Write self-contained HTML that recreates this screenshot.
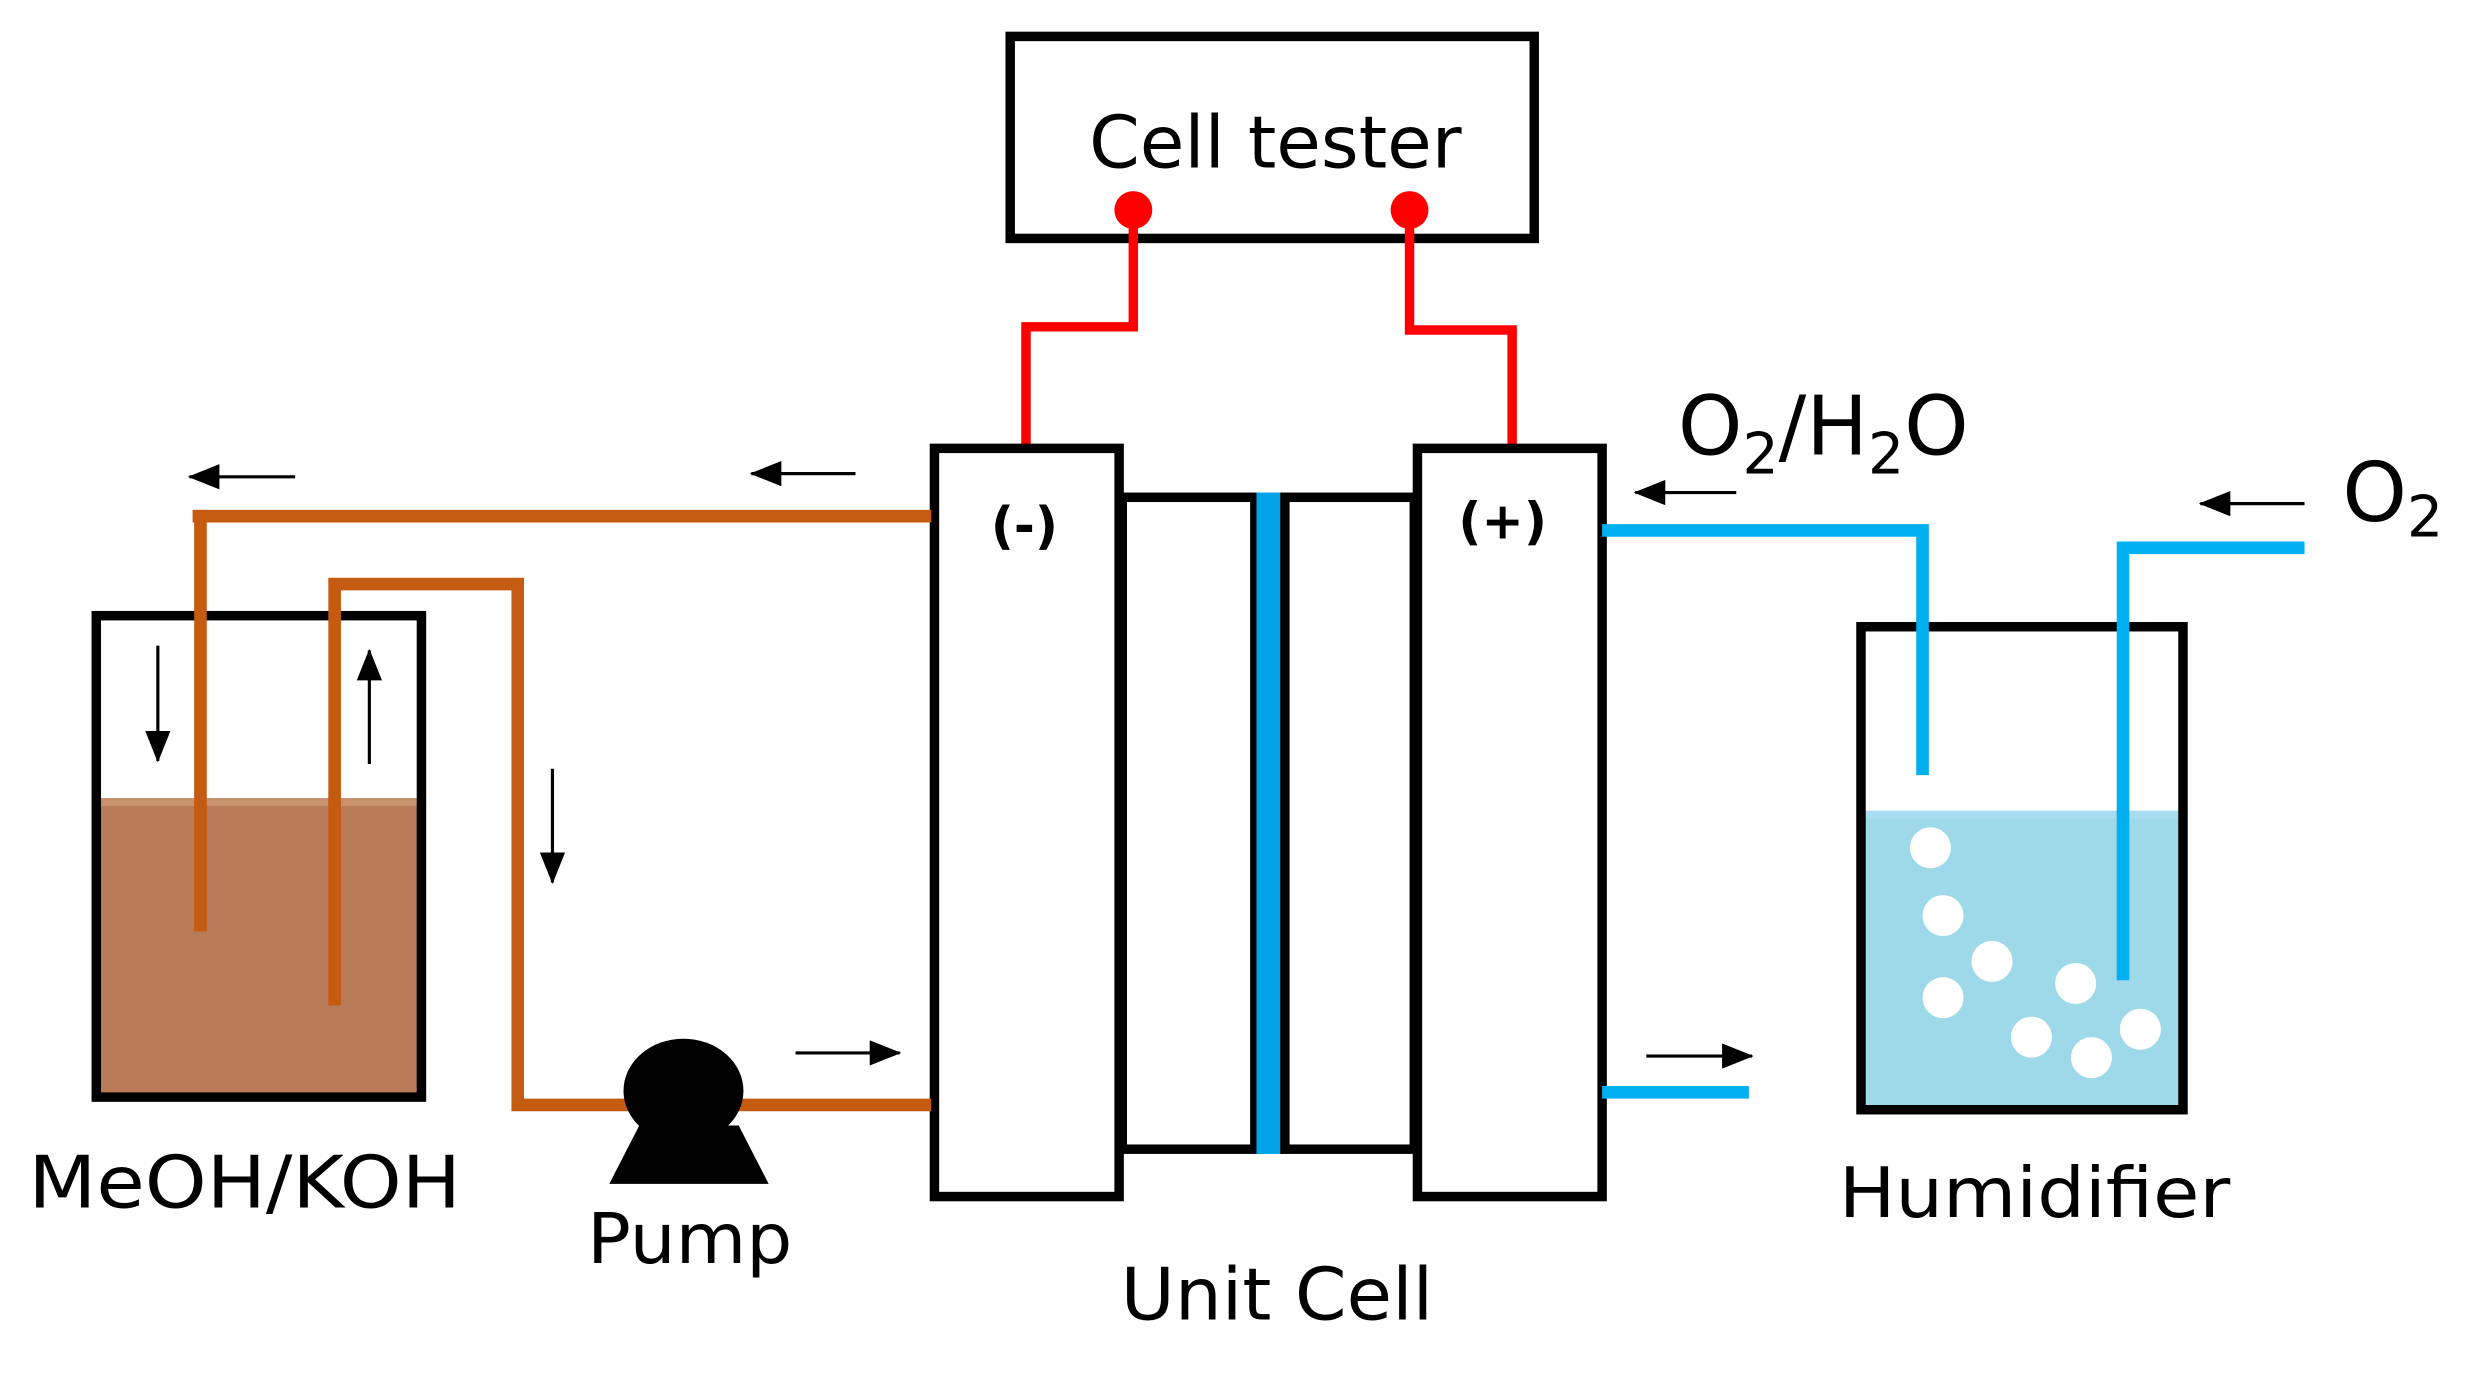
<!DOCTYPE html>
<html><head><meta charset="utf-8"><style>
html,body{margin:0;padding:0;background:#fff;}
svg{display:block;}
text{font-family:"DejaVu Sans","Liberation Sans",sans-serif;fill:#000;}
</style></head><body>
<svg width="2475" height="1375" viewBox="0 0 1568 871" xmlns="http://www.w3.org/2000/svg">
<defs>
<marker id="ah" markerWidth="20" markerHeight="16" refX="19" refY="8" orient="auto" markerUnits="userSpaceOnUse" viewBox="0 0 20 16">
<path d="M0,0 L20,8 L0,16 z" fill="#000"/>
</marker>
</defs>
<!-- Cell tester -->
<rect x="640" y="23" width="332" height="128" fill="none" stroke="#000" stroke-width="6"/>
<text x="690" y="106" font-size="46" textLength="236" lengthAdjust="spacingAndGlyphs">Cell tester</text>
<!-- red wires -->
<polyline points="718,133 718,207 650,207 650,284" fill="none" stroke="#f00" stroke-width="6"/>
<polyline points="893,133 893,209 958,209 958,284" fill="none" stroke="#f00" stroke-width="6"/>
<circle cx="718" cy="133" r="12" fill="#f00"/>
<circle cx="893" cy="133" r="12" fill="#f00"/>
<!-- unit cell -->
<rect x="711" y="315" width="84" height="413" fill="#fff" stroke="#000" stroke-width="6"/>
<rect x="814" y="315" width="82" height="413" fill="#fff" stroke="#000" stroke-width="6"/>
<rect x="796" y="312" width="15" height="419" fill="#00a2e8"/>
<rect x="592" y="284" width="117" height="474" fill="#fff" stroke="#000" stroke-width="6"/>
<rect x="898" y="284" width="117" height="474" fill="#fff" stroke="#000" stroke-width="6"/>
<text x="649" y="344" font-size="32" font-weight="bold" text-anchor="middle">(-)</text>
<text x="952" y="341" font-size="32" font-weight="bold" text-anchor="middle">(+)</text>
<text x="710" y="836" font-size="46" textLength="198" lengthAdjust="spacingAndGlyphs">Unit Cell</text>
<!-- tank -->
<rect x="63" y="508" width="203" height="185" fill="#b97a57"/>
<line x1="63" y1="508" x2="270" y2="508" stroke="#c9916d" stroke-width="5"/>
<rect x="61" y="390" width="206" height="305" fill="none" stroke="#000" stroke-width="6"/>
<!-- orange pipes -->
<polyline points="590,327 122,327" fill="none" stroke="#c55a11" stroke-width="8"/>
<polyline points="127,323 127,590" fill="none" stroke="#c55a11" stroke-width="8"/>
<polyline points="212,637 212,370 328,370 328,700 590,700" fill="none" stroke="#c55a11" stroke-width="8"/>
<!-- pump -->
<ellipse cx="433" cy="691" rx="38" ry="33" fill="#000"/>
<polygon points="386,750 487,750 468,713 405,713" fill="#000"/>
<text x="372" y="800" font-size="44" textLength="130" lengthAdjust="spacingAndGlyphs">Pump</text>
<text x="18" y="765" font-size="46" textLength="274" lengthAdjust="spacingAndGlyphs">MeOH/KOH</text>
<!-- arrows -->
<g stroke="#000" stroke-width="2" marker-end="url(#ah)">
<line x1="187" y1="302" x2="120" y2="302"/>
<line x1="542" y1="300" x2="476" y2="300"/>
<line x1="100" y1="409" x2="100" y2="482"/>
<line x1="234" y1="484" x2="234" y2="412"/>
<line x1="350" y1="487" x2="350" y2="559"/>
<line x1="504" y1="667" x2="570" y2="667"/>
<line x1="1043" y1="669" x2="1110" y2="669"/>
<line x1="1100" y1="312" x2="1036" y2="312"/>
<line x1="1460" y1="319" x2="1394" y2="319"/>
</g>
<!-- humidifier -->
<rect x="1181" y="516" width="200" height="185" fill="#9dd9e8"/>
<line x1="1180" y1="516" x2="1385" y2="516" stroke="#a9dcee" stroke-width="5"/>
<g fill="#fff">
<circle cx="1223" cy="537" r="13"/><circle cx="1231" cy="580" r="13"/><circle cx="1262" cy="609" r="13"/>
<circle cx="1231" cy="632" r="13"/><circle cx="1315" cy="623" r="13"/><circle cx="1287" cy="657" r="13"/>
<circle cx="1325" cy="670" r="13"/><circle cx="1356" cy="652" r="13"/>
</g>
<rect x="1179" y="397" width="204" height="306" fill="none" stroke="#000" stroke-width="6"/>
<polyline points="1015,336 1218,336 1218,491" fill="none" stroke="#00b0f0" stroke-width="8"/>
<polyline points="1460,347 1345,347 1345,621" fill="none" stroke="#00b0f0" stroke-width="8"/>
<line x1="1015" y1="692" x2="1108" y2="692" stroke="#00b0f0" stroke-width="8"/>
<text x="1063" y="288" font-size="52">O<tspan font-size="36" dy="12">2</tspan><tspan dy="-12">/H</tspan><tspan font-size="36" dy="12">2</tspan><tspan dy="-12">O</tspan></text>
<text x="1484" y="330" font-size="52">O<tspan font-size="36" dy="10">2</tspan></text>
<text x="1165" y="771" font-size="44" textLength="248" lengthAdjust="spacingAndGlyphs">Humidifier</text>
</svg>
</body></html>
